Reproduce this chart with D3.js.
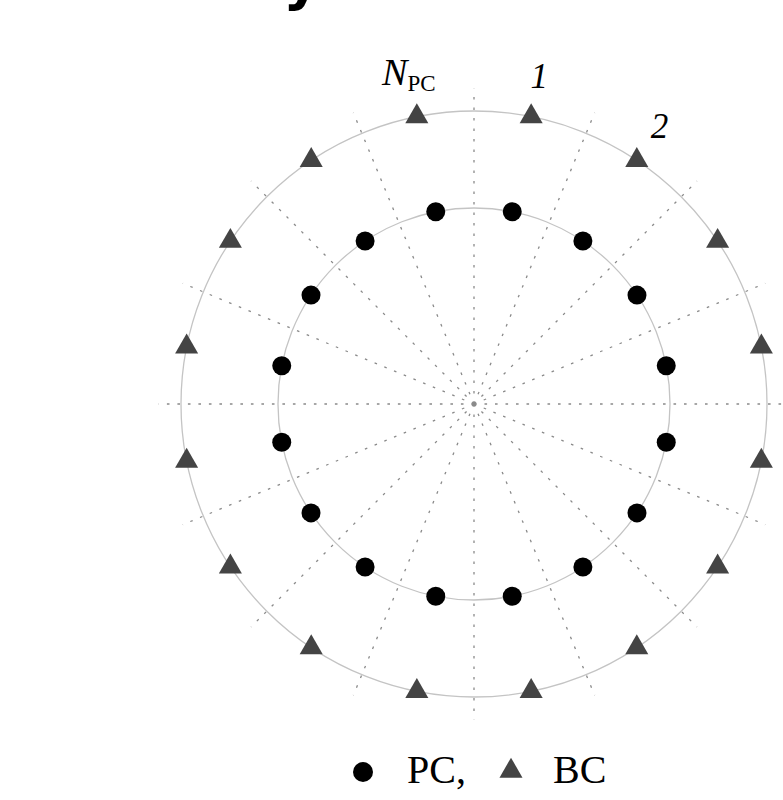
<!DOCTYPE html>
<html>
<head>
<meta charset="utf-8">
<script src="https://cdn.jsdelivr.net/npm/d3@7/dist/d3.min.js"></script>
<style>
  html, body { margin: 0; padding: 0; background: #fff; }
  svg { display: block; }
</style>
</head>
<body>
<svg id="chart" width="783" height="800"></svg>
<script>
// ---- data ----
// angular positions (degrees, clockwise from 12 o'clock) of the 16 elements of each ring
const pcAngles = [11.25, 33.75, 56.25, 78.75, 101.25, 123.75, 146.25, 168.75,
                  191.25, 213.75, 236.25, 258.75, 281.25, 303.75, 326.25, 348.75];
const bcAngles = [11.25, 33.75, 56.25, 78.75, 101.25, 123.75, 146.25, 168.75,
                  191.25, 213.75, 236.25, 258.75, 281.25, 303.75, 326.25, 348.75];
// dotted radial guide lines (degrees)
const guideAngles = [0, 22.5, 45, 67.5, 90, 112.5, 135, 157.5,
                     180, 202.5, 225, 247.5, 270, 292.5, 315, 337.5];
// relative ring radii
const pcRadius = 0.669;
const bcRadius = 1.0;
const guideRadius = 1.076;
// element labels
const elementLabels = [
  { main: "N", sub: "PC", angle: -11.25 },
  { main: "1", sub: "", angle: 11.25 },
  { main: "2", sub: "", angle: 33.75 }
];
const legendItems = ["PC,", "BC"];

// ---- drawing ----
const svg = d3.select("#chart");
const cx = 474, cy = 404;
const r = d3.scaleLinear().domain([0, 1]).range([0, 293]);
const toXY = (deg, rad) => {
  const a = deg * Math.PI / 180;
  return [cx + r(rad) * Math.sin(a), cy - r(rad) * Math.cos(a)];
};

// clipped title fragment at the very top (the reference shows only its descender)
svg.append("text")
  .attr("x", 283).attr("y", -1)
  .attr("font-family", "'DejaVu Sans', sans-serif")
  .attr("font-weight", "bold")
  .attr("font-size", 58)
  .attr("fill", "#000")
  .text("y");

// guide lines
svg.append("g").selectAll("line").data(guideAngles).join("line")
  .attr("x1", cx).attr("y1", cy)
  .attr("x2", d => toXY(d, guideRadius)[0])
  .attr("y2", d => toXY(d, guideRadius)[1])
  .attr("stroke", "#8a8a8a")
  .attr("stroke-width", 1.3)
  .attr("stroke-dasharray", "2.6,7.9");

// rings
svg.append("g").selectAll("circle").data([pcRadius, bcRadius]).join("circle")
  .attr("cx", cx).attr("cy", cy)
  .attr("r", d => r(d))
  .attr("fill", "none")
  .attr("stroke", "#c4c4c4")
  .attr("stroke-width", 1.3);

// PC points
svg.append("g").selectAll("circle").data(pcAngles).join("circle")
  .attr("cx", d => toXY(d, pcRadius)[0])
  .attr("cy", d => toXY(d, pcRadius)[1])
  .attr("r", 9.5)
  .attr("fill", "#000");

// BC triangles
const tri = d3.symbol().type(d3.symbolTriangle).size(230);
svg.append("g").selectAll("path").data(bcAngles).join("path")
  .attr("d", tri)
  .attr("transform", d => `translate(${toXY(d, bcRadius)[0]},${toXY(d, bcRadius)[1]})`)
  .attr("fill", "#444");

// element labels
const lab = svg.append("g").attr("font-family", "'Liberation Serif', 'Times New Roman', serif");
elementLabels.forEach(l => {
  const [x, y] = toXY(l.angle, 1.14);
  const t = lab.append("text")
    .attr("x", x).attr("y", y + 12)
    .attr("text-anchor", "middle")
    .attr("fill", "#000");
  if (l.sub) {
    t.append("tspan").attr("font-style", "italic").attr("font-size", 38).attr("dy", -3).text(l.main);
    t.append("tspan").attr("font-size", 23).attr("dy", 6).text(l.sub);
  } else {
    t.append("tspan").attr("font-style", "italic").attr("font-size", 35).text(l.main);
  }
});

// legend
const lg = svg.append("g").attr("font-family", "'Liberation Serif', 'Times New Roman', serif");
lg.append("circle").attr("cx", 363).attr("cy", 772).attr("r", 10).attr("fill", "#000");
lg.append("text").attr("x", 407).attr("y", 783).attr("font-size", 40).attr("fill", "#000").text(legendItems[0]);
lg.append("path").attr("d", tri).attr("transform", "translate(511,771)").attr("fill", "#444");
lg.append("text").attr("x", 553).attr("y", 783).attr("font-size", 40).attr("fill", "#000").text(legendItems[1]);
</script>
</body>
</html>
